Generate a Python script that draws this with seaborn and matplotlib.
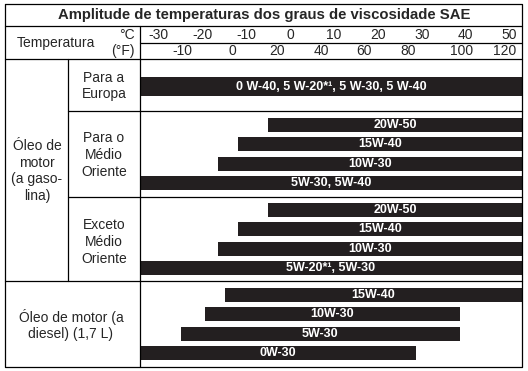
import matplotlib.pyplot as plt
import seaborn as sns

# Temperature ranges (deg C) for each SAE grade
# open-ended ranges use LOW / HIGH and get clipped at the chart edges
LOW, HIGH = -40, 60

europe_grades = ["0 W-40, 5 W-20*¹, 5 W-30, 5 W-40"]
europe_min = [LOW]
europe_max = [HIGH]

mideast_grades = ["20W-50", "15W-40", "10W-30", "5W-30, 5W-40"]
mideast_min = [-5, -12, -16.5, LOW]
mideast_max = [HIGH, HIGH, HIGH, HIGH]

other_grades = ["20W-50", "15W-40", "10W-30", "5W-20*¹, 5W-30"]
other_min = [-5, -12, -16.5, LOW]
other_max = [HIGH, HIGH, HIGH, HIGH]

diesel_grades = ["15W-40", "10W-30", "5W-30", "0W-30"]
diesel_min = [-15, -19.5, -25, LOW]
diesel_max = [HIGH, 38.7, 38.7, 28.7]

celsius_labels = [-30, -20, -10, 0, 10, 20, 30, 40, 50]
fahrenheit_labels = [-10, 0, 20, 40, 60, 80, 100, 120]
# where the printed chart puts the degF labels, on the degC scale
fahrenheit_pos = [-24.7, -13.3, -3.0, 7.0, 16.8, 26.9, 39.0, 49.0]

# Layout (pixels)
W, H = 528, 371
X_MIN, X_MAX = -34.3, 52.9
BAR_COLOR = "#231f20"

sns.set_theme(style="white")
plt.rcParams["font.family"] = ["Liberation Sans", "DejaVu Sans"]

fig = plt.figure(figsize=(W / 100, H / 100), dpi=100)
fig.patch.set_facecolor("white")


def px_rect(x0, y0, x1, y1):
    return [x0 / W, 1 - y1 / H, (x1 - x0) / W, (y1 - y0) / H]


# bar area
ax = fig.add_axes(px_rect(140, 59, 522, 367))
ax.set_xlim(X_MIN, X_MAX)
ax.set_ylim(367, 59)
ax.axis("off")

# header row with the scales
hdr = fig.add_axes(px_rect(140, 26, 522, 59), sharex=ax)
hdr.set_ylim(59, 26)
hdr.axis("off")
for t in celsius_labels:
    hdr.text(t, 35, str(t), ha="center", va="center", fontsize=10)
for t, p in zip(fahrenheit_labels, fahrenheit_pos):
    hdr.text(p, 51, str(t), ha="center", va="center", fontsize=10)

groups = [
    (europe_grades, europe_min, europe_max, 59, 111, 19),
    (mideast_grades, mideast_min, mideast_max, 111, 197, 14),
    (other_grades, other_min, other_max, 197, 281, 14),
    (diesel_grades, diesel_min, diesel_max, 281, 367, 14),
]
step = 19.5
for names, lo, hi, top, bottom, h in groups:
    n = len(names)
    first = top + (bottom - top - (n - 1) * step) / 2
    if n == 1:
        first += 2
    ys = [first + i * step for i in range(n)]
    widths = [b - a for a, b in zip(lo, hi)]
    ax.barh(ys, widths, left=lo, height=h, color=BAR_COLOR, edgecolor="none")
    for name, a, b, y in zip(names, lo, hi, ys):
        mid = (max(a, X_MIN) + min(b, X_MAX)) / 2
        ax.text(mid, y, name, ha="center", va="center", color="white",
                fontsize=9, fontweight="bold")

# table grid and captions on top, in pixel coordinates
ov = fig.add_axes([0, 0, 1, 1], zorder=5)
ov.set_xlim(0, W)
ov.set_ylim(H, 0)
ov.axis("off")
ov.patch.set_alpha(0)

lw = 0.9
ov.plot([5, 522, 522, 5, 5], [4, 4, 367, 367, 4], color="black", lw=lw)
ov.plot([5, 522], [26, 26], color="black", lw=lw)
ov.plot([140, 522], [43, 43], color="black", lw=lw)
ov.plot([5, 522], [59, 59], color="black", lw=lw)
ov.plot([140, 140], [26, 367], color="black", lw=lw)
ov.plot([68, 68], [59, 281], color="black", lw=lw)
ov.plot([68, 522], [111, 111], color="black", lw=lw)
ov.plot([68, 522], [197, 197], color="black", lw=lw)
ov.plot([5, 522], [281, 281], color="black", lw=lw)

ov.text(264, 15, "Amplitude de temperaturas dos graus de viscosidade SAE",
        ha="center", va="center", fontsize=10.7, fontweight="bold")
ov.text(17, 43, "Temperatura", ha="left", va="center", fontsize=10)
ov.text(135, 35, "°C", ha="right", va="center", fontsize=10)
ov.text(135, 51, "(°F)", ha="right", va="center", fontsize=10)

cap = dict(ha="center", va="center", fontsize=10, linespacing=1.25)
ov.text(104, 86, "Para a\nEuropa", **cap)
ov.text(104, 155, "Para o\nMédio\nOriente", **cap)
ov.text(104, 242, "Exceto\nMédio\nOriente", **cap)
ov.text(37, 171, "Óleo de\nmotor\n(a gaso-\nlina)", **cap)
ov.text(71, 325, "Óleo de motor (a\ndiesel) (1,7 L)", **cap)

fig.savefig("out.png", dpi=100, facecolor="white")
plt.close(fig)
